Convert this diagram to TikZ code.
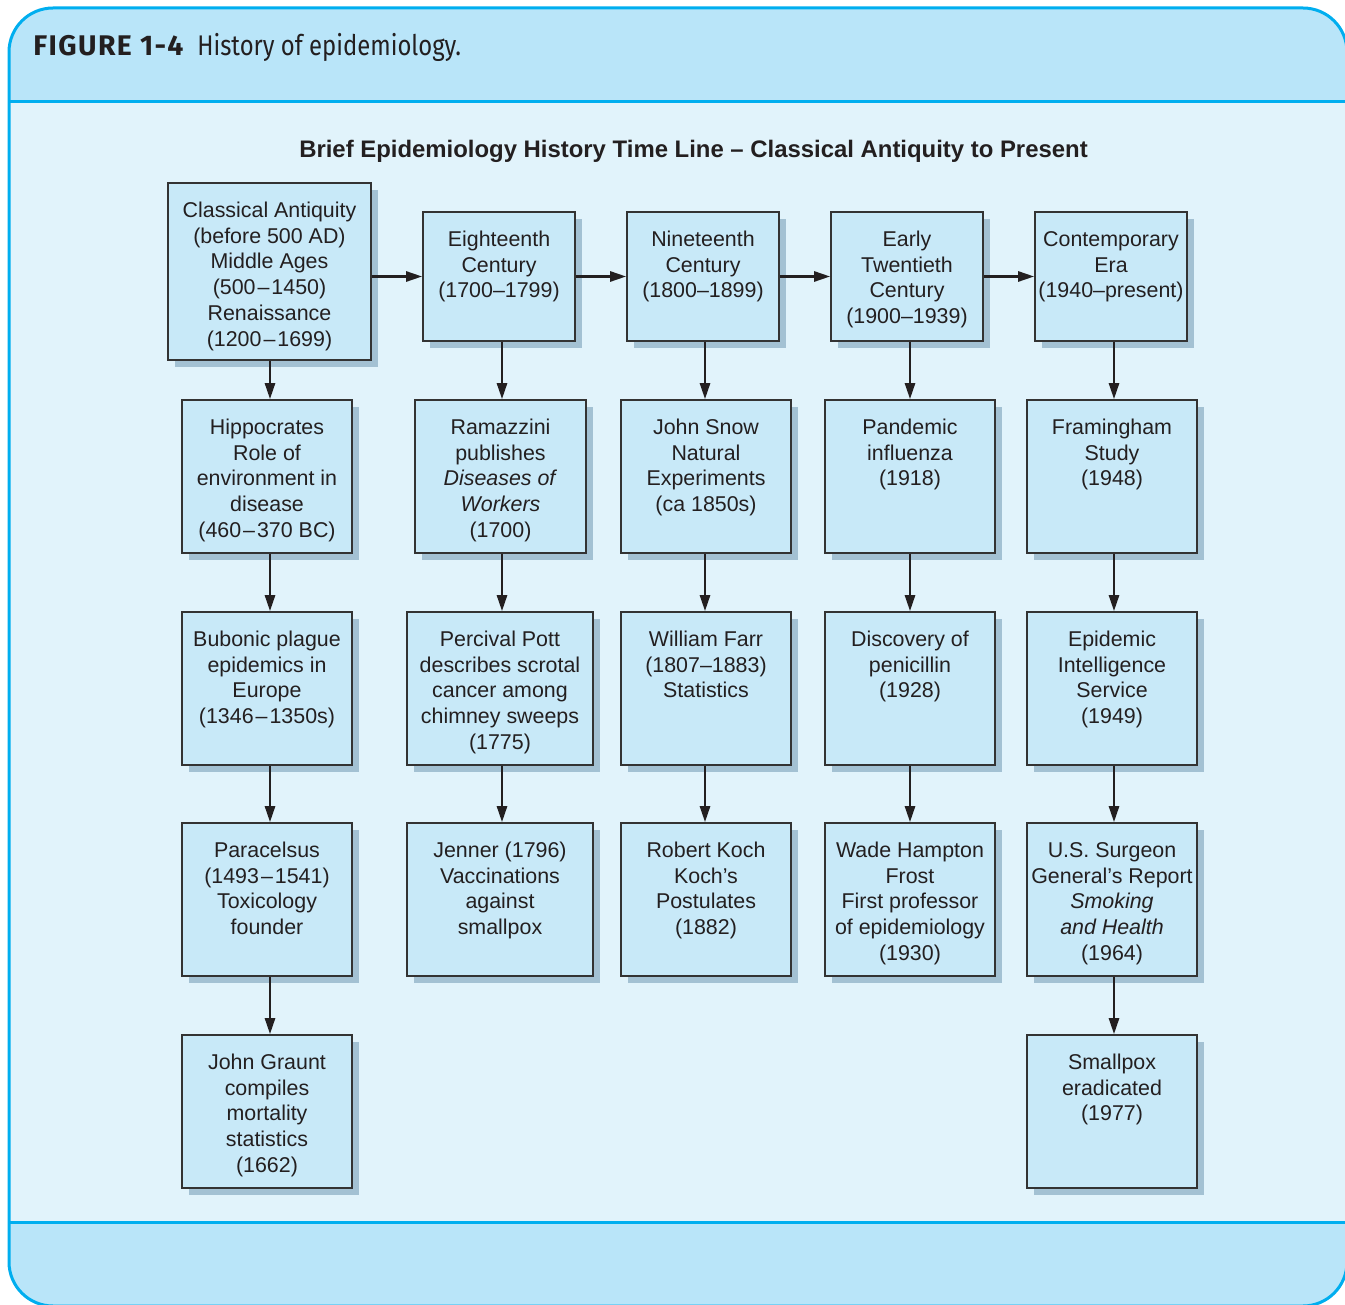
\documentclass[tikz,border=0pt]{standalone}
\usepackage{fontspec}
\setmainfont{Liberation Sans}
\newfontfamily\headfont{Fira Sans}
\newfontfamily\headbold[LetterSpace=5]{Fira Sans Bold}
\usetikzlibrary{arrows.meta,fit,shadows,calc}
\definecolor{headc}{HTML}{B9E5F9}
\definecolor{bodyc}{HTML}{E1F3FB}
\definecolor{linec}{HTML}{00AEEF}
\definecolor{boxc}{HTML}{C8E9F8}
\definecolor{shadc}{HTML}{A3C1D3}
\definecolor{inkc}{HTML}{231F20}
\definecolor{edgec}{HTML}{333333}
\tikzset{
  ebox/.style={draw=edgec, line width=0.8pt, fill=boxc, inner sep=0pt,
    drop shadow={shadow xshift=3.5pt, shadow yshift=-3.5pt, fill=shadc, opacity=1, shadow scale=1}},
  etext/.style={inner sep=0pt, align=center, text=inkc,
    font=\fontsize{10.7}{12.9}\selectfont},
  arr/.style={draw=inkc, line width=1.25pt, -{Triangle[length=8pt,width=5pt]}},
}
\newcommand\ebx[6]{%
  \node[ebox, fit={(#2,#3) (#4,#5)}] (#1) {};
  \node[etext, anchor=north] (#1t) at ([yshift=-8.3pt]#1.north) {\strut #6};
}
\newcommand\dd{\kern1pt--\kern1pt}
\begin{document}
\begin{tikzpicture}[x=0.5pt,y=-0.5pt]
\useasboundingbox (0,0) rectangle (1345,1305);
% panel
\fill[headc, rounded corners=22pt] (9,8) rectangle (1347,1306);
\fill[bodyc] (9,102) rectangle (1347,1222);
\draw[linec, line width=1.5pt] (9,102) -- (1347,102);
\draw[linec, line width=1.5pt] (9,1222) -- (1347,1222);
\draw[linec, line width=1.5pt, rounded corners=22pt] (9,8) rectangle (1347,1306);
% header
\node[anchor=base west, inner sep=0pt, text=inkc, font=\fontsize{14.2}{16}\selectfont] (fig) at (33,56)
  {{\headbold FIGURE 1-4}\hspace{7pt}\scalebox{0.84}[1]{\headfont History of epidemiology.}};
\node[inner sep=0pt, text=inkc, font=\bfseries\fontsize{11.95}{14}\selectfont] (title) at (693.5,151)
  {Brief Epidemiology History Time Line -- Classical Antiquity to Present};
% column coordinates
\coordinate (cA) at (270,0);
\coordinate (cB) at (502,0);
\coordinate (cC) at (705,0);
\coordinate (cD) at (910,0);
\coordinate (cE) at (1114,0);
% top row
\ebx{A0}{168}{183}{371}{360}{Classical Antiquity\\(before 500 AD)\\Middle Ages\\(500\dd1450)\\Renaissance\\(1200\dd1699)}
\ebx{B0}{423}{212}{575}{341}{Eighteenth\\Century\\(1700--1799)}
\ebx{C0}{627}{212}{779}{341}{Nineteenth\\Century\\(1800--1899)}
\ebx{D0}{831}{212}{983}{341}{Early\\Twentieth\\Century\\(1900--1939)}
\ebx{E0}{1035}{212}{1187}{341}{Contemporary\\Era\\(1940--present)}
% row 2
\ebx{A1}{182}{400}{352}{553}{Hippocrates\\Role of\\environment in\\disease\\(460\dd370 BC)}
\ebx{B1}{415}{400}{586}{553}{Ramazzini\\publishes\\\textit{Diseases of}\\\textit{Workers}\\(1700)}
\ebx{C1}{621}{400}{791}{553}{John Snow\\Natural\\Experiments\\(ca 1850s)}
\ebx{D1}{825}{400}{995}{553}{Pandemic\\influenza\\(1918)}
\ebx{E1}{1027}{400}{1197}{553}{Framingham\\Study\\(1948)}
% row 3
\ebx{A2}{182}{612}{352}{765}{Bubonic plague\\epidemics in\\Europe\\(1346\dd1350s)}
\ebx{B2}{407}{612}{593}{765}{Percival Pott\\describes scrotal\\cancer among\\chimney sweeps\\(1775)}
\ebx{C2}{621}{612}{791}{765}{William Farr\\(1807--1883)\\Statistics}
\ebx{D2}{825}{612}{995}{765}{Discovery of\\penicillin\\(1928)}
\ebx{E2}{1027}{612}{1197}{765}{Epidemic\\Intelligence\\Service\\(1949)}
% row 4
\ebx{A3}{182}{823}{352}{976}{Paracelsus\\(1493\dd1541)\\Toxicology\\founder}
\ebx{B3}{407}{823}{593}{976}{Jenner (1796)\\Vaccinations\\against\\smallpox}
\ebx{C3}{621}{823}{791}{976}{Robert Koch\\Koch’s\\Postulates\\(1882)}
\ebx{D3}{825}{823}{995}{976}{Wade Hampton\\Frost\\First professor\\of epidemiology\\(1930)}
\ebx{E3}{1027}{823}{1197}{976}{U.S. Surgeon\\General’s Report\\\textit{Smoking}\\\textit{and Health}\\(1964)}
% row 5
\ebx{A4}{182}{1035}{352}{1188}{John Graunt\\compiles\\mortality\\statistics\\(1662)}
\ebx{E4}{1027}{1035}{1197}{1188}{Smallpox\\eradicated\\(1977)}
% horizontal arrows
\draw[arr] (A0.east |- B0.west) -- (B0.west);
\draw[arr] (B0.east) -- (C0.west);
\draw[arr] (C0.east) -- (D0.west);
\draw[arr] (D0.east) -- (E0.west);
% vertical arrows
\foreach \c/\a/\b in {A/0/1,A/1/2,A/2/3,A/3/4,B/0/1,B/1/2,B/2/3,C/0/1,C/1/2,C/2/3,D/0/1,D/1/2,D/2/3,E/0/1,E/1/2,E/2/3,E/3/4}
  \draw[arr] (\c\a.south -| c\c) -- (\c\b.north -| c\c);
\end{tikzpicture}
\end{document}
